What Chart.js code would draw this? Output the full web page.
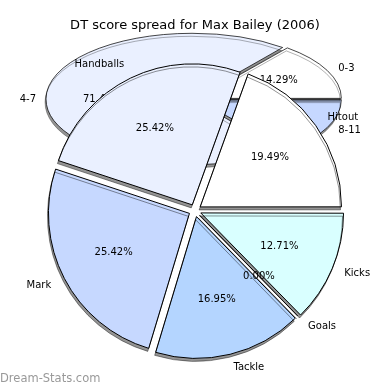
<!DOCTYPE html>
<html>
<head>
<meta charset="utf-8">
<script src="https://cdn.jsdelivr.net/npm/chart.js@4.4.1/dist/chart.umd.min.js"></script>
<style>
  html, body { margin: 0; padding: 0; background: #fff; }
  #wrap { position: relative; width: 390px; height: 390px; }
  #wrap canvas { position: absolute; left: 0; top: 0; }
</style>
</head>
<body>
<div id="wrap">
  <canvas id="back" width="390" height="390"></canvas>
  <canvas id="front" width="390" height="390"></canvas>
</div>
<script>
// score ranges (the flat, squashed pie at the back), clockwise from 3 o'clock
const rangeLabels = ["8-11", "4-7", "0-3"];
const rangeCounts = [1, 5, 1];
const rangeColors = ["#c6d8ff", "#eaf0ff", "#ffffff"];

// stat types (front pie), clockwise from 3 o'clock
const statLabels = ["Kicks", "Goals", "Tackle", "Mark", "Handballs", "Hitout"];
const statCounts = [15, 0, 20, 30, 30, 23];
const statColors = ["#d9ffff", "#c0e8ff", "#b4d5ff", "#c6d8ff", "#eaf0ff", "#ffffff"];

const FONT = "'DejaVu Sans', sans-serif";
const ELL_CY = 99;     // where the back pie sits
const ELL_K = 0.45;    // vertical squash of the back pie

function pct(v, arr) {
    const total = arr.reduce((a, b) => a + b, 0);
    return (v / total * 100).toFixed(2) + "%";
}

//  names outside, percentages inside
function drawLabels(chart, cy, k, outGap, labels, values) {
    const ctx = chart.ctx;
    const arcs = chart.getDatasetMeta(0).data;
    ctx.save();
    ctx.fillStyle = "#000";
    ctx.font = "10px " + FONT;
    ctx.textBaseline = "middle";
    arcs.forEach((a, i) => {
        const mid = (a.startAngle + a.endAngle) / 2;
        const c = Math.cos(mid), s = Math.sin(mid);
        const R = a.outerRadius;
        ctx.textAlign = "center";
        ctx.fillText(pct(values[i], values), a.x + R * 0.65 * c, cy + R * 0.65 * s * k);
        ctx.textAlign = c >= 0 ? "left" : "right";
        ctx.fillText(labels[i], a.x + (R + outGap) * c, cy + (R + outGap) * s * k);
    });
    ctx.restore();
}

function setShadow(ctx) {
    ctx.shadowColor = "rgba(0,0,0,0.42)";
    ctx.shadowOffsetX = -1;
    ctx.shadowOffsetY = 3;
    ctx.shadowBlur = 0;
}

const backPlugin = {
    id: "squash",
    beforeDatasetsDraw(chart) {
        const ctx = chart.ctx;
        const a = chart.getDatasetMeta(0).data[0];
        ctx.save();
        setShadow(ctx);
        ctx.translate(0, ELL_CY);
        ctx.scale(1, ELL_K);
        ctx.translate(0, -a.y);
    },
    afterDatasetsDraw(chart) {
        chart.ctx.restore();
    },
    afterDraw(chart) {
        drawLabels(chart, ELL_CY, ELL_K, 16, rangeLabels, rangeCounts);
        const ctx = chart.ctx;
        ctx.save();
        ctx.fillStyle = "#999";
        ctx.font = "11.5px " + FONT;
        ctx.textAlign = "left";
        ctx.textBaseline = "middle";
        ctx.fillText("Dream-Stats.com", 0, 379);
        ctx.restore();
    }
};

const frontPlugin = {
    id: "shade",
    beforeDatasetsDraw(chart) {
        chart.ctx.save();
        setShadow(chart.ctx);
    },
    afterDatasetsDraw(chart) {
        const ctx = chart.ctx;
        // a zero slice still shows as a line
        const meta = chart.getDatasetMeta(0);
        const d = chart.data.datasets[0].offset / 4;
        meta.data.forEach((a) => {
            if (a.circumference !== 0) return;
            const c = Math.cos(a.startAngle), s = Math.sin(a.startAngle);
            ctx.strokeStyle = "#000";
            ctx.lineWidth = 1;
            ctx.beginPath();
            ctx.moveTo(a.x + d * c, a.y + d * s);
            ctx.lineTo(a.x + (d + a.outerRadius) * c, a.y + (d + a.outerRadius) * s);
            ctx.stroke();
        });
        ctx.restore();
    },
    afterDraw(chart) {
        const a = chart.getDatasetMeta(0).data[0];
        drawLabels(chart, a.y, 1, 21, statLabels, statCounts);
    }
};

const backChart = new Chart(document.getElementById("back"), {
    type: "pie",
    data: {
        labels: rangeLabels,
        datasets: [{
            data: rangeCounts,
            backgroundColor: rangeColors,
            borderColor: "#000",
            borderWidth: 1,
            offset: 12,
            clip: false
        }]
    },
    options: {
        responsive: false,
        animation: false,
        rotation: 90,
        radius: 143,
        layout: { padding: 0 },
        events: [],
        plugins: {
            legend: { display: false },
            tooltip: { enabled: false },
            title: {
                display: true,
                text: "DT score spread for Max Bailey (2006)",
                color: "#000",
                font: { family: FONT, size: 13, weight: "normal" },
                padding: { top: 18, bottom: 0 }
            }
        }
    },
    plugins: [backPlugin]
});

const frontChart = new Chart(document.getElementById("front"), {
    type: "pie",
    data: {
        labels: statLabels,
        datasets: [{
            data: statCounts,
            backgroundColor: statColors,
            borderColor: "#000",
            borderWidth: 1,
            offset: 25,
            clip: false
        }]
    },
    options: {
        responsive: false,
        animation: false,
        rotation: 90,
        radius: 141,
        layout: { padding: { top: 31, left: 0, right: 0, bottom: 0 } },
        events: [],
        plugins: {
            legend: { display: false },
            tooltip: { enabled: false }
        }
    },
    plugins: [frontPlugin]
});
</script>
</body>
</html>
